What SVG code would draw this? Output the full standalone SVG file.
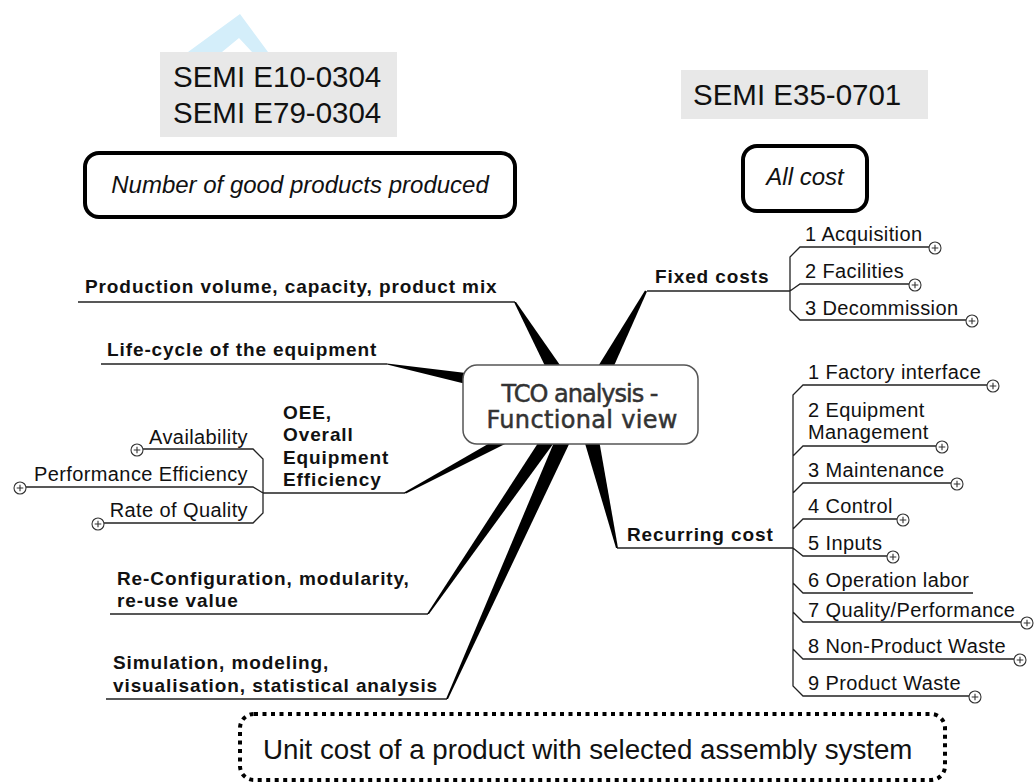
<svg xmlns="http://www.w3.org/2000/svg" xmlns:xlink="http://www.w3.org/1999/xlink" width="1034" height="784" viewBox="0 0 1034 784">
<style>
.b{font-family:"Liberation Sans",Arial,sans-serif;font-weight:bold;font-size:19px;letter-spacing:0.9px;fill:#111}
.r{font-family:"Liberation Sans",Arial,sans-serif;font-size:20px;letter-spacing:0.4px;fill:#111}
.semi{font-family:"Liberation Sans",Arial,sans-serif;font-size:29.5px;fill:#111}
.it{font-family:"Liberation Sans",Arial,sans-serif;font-style:italic;font-size:24px;fill:#111}
.ctr{font-family:"DejaVu Sans",Verdana,sans-serif;font-size:24px;fill:#333;stroke:#333;stroke-width:0.5}
.ln{fill:none;stroke:#222;stroke-width:1.3}
.sp{fill:#000}
.grey{fill:#e8e8e8}
.thick{fill:#fff;stroke:#000;stroke-width:4}
</style>
<defs>
<g id="plus"><circle r="6" fill="#fff" stroke="#333" stroke-width="1.1"/><path d="M-3.3,0H3.3M0,-3.3V3.3" stroke="#333" stroke-width="1.1"/></g>
</defs>
<rect width="1034" height="784" fill="#fff"/>
<polygon points="188,52 240,14 268,52 252,52 239,38 222,52" fill="#d4eefa"/>
<g id="semi-left"><rect class="grey" x="160" y="52" width="237" height="85"/>
<text class="semi" x="173" y="87">SEMI E10-0304</text><text class="semi" x="173" y="123">SEMI E79-0304</text></g>
<g id="semi-right"><rect class="grey" x="681" y="70" width="247" height="49"/>
<text class="semi" x="693" y="105">SEMI E35-0701</text></g>
<g id="good-products"><rect class="thick" x="85" y="153" width="430" height="64" rx="14"/>
<text class="it" x="300" y="193" text-anchor="middle">Number of good products produced</text></g>
<g id="all-cost"><rect class="thick" x="743" y="146" width="124" height="65" rx="14"/>
<text class="it" x="805" y="185" text-anchor="middle">All cost</text></g>

<g id="connectors">
<polygon class="sp" points="514,302 516,302 562,368 546,368"/>
<polygon class="sp" points="387,363.4 387,364.6 466,384 466,373"/>
<polygon class="sp" points="645,290.5 647,291.5 613,368 597,368"/>
<polygon class="sp" points="404,492.5 406,493.5 513,440 495,440"/>
<polygon class="sp" points="427,614 429,614 556,440 540,440"/>
<polygon class="sp" points="446,699 448,699 571,440 555,440"/>
<polygon class="sp" points="616,548 618,548 599,440 584,440"/>
<path class="ln" d="M78,302H515M101,364H387M263,493H405M110,614H428M106,699H447M647,291H790M617,548H793"/>
<path class="ln" d="M143,449H253L263,459V513L253,523H104M26,487H253L263,493"/>
<path class="ln" d="M929,247H800L790,257V310L800,320H966M790,291L800,284H909"/>
<path class="ln" d="M987,385H803L793,395V686L803,696H969M793,456L803,446H936M793,493L803,483H951M793,529L803,519H897M793,548L803,556H887M793,583L803,593H973M793,612L803,622H1021M793,649L803,659H1014"/>
</g>

<g id="center"><rect x="463" y="365" width="235" height="79" rx="14" fill="#fff" stroke="#555" stroke-width="1.5"/>
<text class="ctr" x="580" y="402" text-anchor="middle" textLength="157" lengthAdjust="spacing">TCO analysis -</text>
<text class="ctr" x="582" y="428" text-anchor="middle" textLength="191" lengthAdjust="spacing">Functional view</text></g>

<g id="production"><text class="b" x="85" y="293">Production volume, capacity, product mix</text></g>
<g id="lifecycle"><text class="b" x="107" y="356">Life-cycle of the equipment</text></g>
<g id="oee"><text class="b" x="283" y="419">OEE,</text><text class="b" x="283" y="441">Overall</text><text class="b" x="283" y="464">Equipment</text><text class="b" x="283" y="486">Efficiency</text></g>
<g id="availability"><text class="r" x="248" y="444" text-anchor="end">Availability</text><use xlink:href="#plus" x="137" y="450"/></g>
<g id="performance"><text class="r" x="248" y="481" text-anchor="end">Performance Efficiency</text><use xlink:href="#plus" x="20" y="488"/></g>
<g id="quality"><text class="r" x="248" y="517" text-anchor="end">Rate of Quality</text><use xlink:href="#plus" x="98" y="524"/></g>
<g id="reconfig"><text class="b" x="117" y="585">Re-Configuration, modularity,</text><text class="b" x="117" y="607">re-use value</text></g>
<g id="simulation"><text class="b" x="113" y="669">Simulation, modeling,</text><text class="b" x="113" y="692">visualisation, statistical analysis</text></g>

<g id="fixed"><text class="b" x="655" y="283">Fixed costs</text></g>
<g id="acq"><text class="r" x="805" y="241">1 Acquisition</text><use xlink:href="#plus" x="935" y="248"/></g>
<g id="fac"><text class="r" x="805" y="278">2 Facilities</text><use xlink:href="#plus" x="915" y="285"/></g>
<g id="decom"><text class="r" x="805" y="315">3 Decommission</text><use xlink:href="#plus" x="972" y="321"/></g>

<g id="recurring"><text class="b" x="627" y="541">Recurring cost</text></g>
<g id="r1"><text class="r" x="808" y="379">1 Factory interface</text><use xlink:href="#plus" x="993" y="386"/></g>
<g id="r2"><text class="r" x="808" y="417">2 Equipment</text><text class="r" x="808" y="439">Management</text><use xlink:href="#plus" x="942" y="447"/></g>
<g id="r3"><text class="r" x="808" y="477">3 Maintenance</text><use xlink:href="#plus" x="957" y="484"/></g>
<g id="r4"><text class="r" x="808" y="513">4 Control</text><use xlink:href="#plus" x="903" y="520"/></g>
<g id="r5"><text class="r" x="808" y="550">5 Inputs</text><use xlink:href="#plus" x="893" y="557"/></g>
<g id="r6"><text class="r" x="808" y="587">6 Operation labor</text></g>
<g id="r7"><text class="r" x="808" y="617">7 Quality/Performance</text><use xlink:href="#plus" x="1027" y="623"/></g>
<g id="r8"><text class="r" x="808" y="653">8 Non-Product Waste</text><use xlink:href="#plus" x="1020" y="660"/></g>
<g id="r9"><text class="r" x="808" y="690">9 Product Waste</text><use xlink:href="#plus" x="975" y="697"/></g>

<g id="unit-cost"><rect x="240" y="714" width="705" height="66" rx="14" fill="none" stroke="#000" stroke-width="4" stroke-dasharray="4 4.5"/>
<text x="263" y="759" style="font-family:'Liberation Sans',Arial,sans-serif;font-size:27.7px;fill:#111">Unit cost of a product with selected assembly system</text></g>
</svg>
